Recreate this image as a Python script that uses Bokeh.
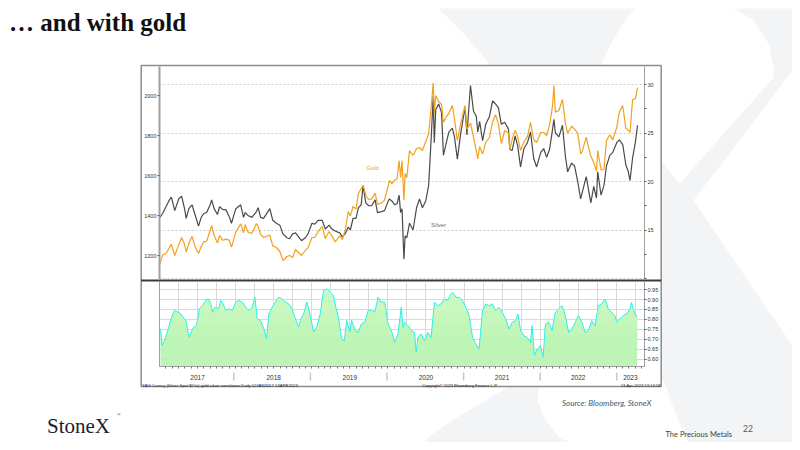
import numpy as np
import pandas as pd
from bokeh.plotting import figure
from bokeh.models import Range1d, LinearAxis, FixedTicker, Label, Grid, NumeralTickFormatter
from bokeh.layouts import column
from bokeh.embed import file_html
from bokeh.resources import INLINE

# ---------------- data ----------------
price_dates = [
    "2017-01-03", "2017-01-16", "2017-02-01", "2017-02-15", "2017-02-27", "2017-03-15", "2017-04-03", "2017-04-17",
    "2017-05-01", "2017-05-09", "2017-05-22", "2017-06-06", "2017-06-20", "2017-07-07", "2017-07-20", "2017-08-01",
    "2017-08-15", "2017-09-01", "2017-09-08", "2017-09-20", "2017-10-06", "2017-10-16", "2017-11-01", "2017-11-15",
    "2017-12-01", "2017-12-12", "2018-01-02", "2018-01-25", "2018-02-08", "2018-02-16", "2018-03-01", "2018-03-20",
    "2018-04-11", "2018-04-19", "2018-05-01", "2018-05-15", "2018-06-14", "2018-06-28", "2018-07-15", "2018-08-01",
    "2018-08-16", "2018-09-04", "2018-09-17", "2018-10-01", "2018-10-15", "2018-11-13", "2018-12-01", "2018-12-14",
    "2019-01-02", "2019-01-15", "2019-02-01", "2019-02-20", "2019-03-07", "2019-03-25", "2019-04-08", "2019-04-23",
    "2019-05-15", "2019-05-28", "2019-06-10", "2019-06-25", "2019-07-05", "2019-07-18", "2019-08-01", "2019-08-13",
    "2019-08-26", "2019-09-04", "2019-09-17", "2019-10-01", "2019-10-15", "2019-11-01", "2019-11-12", "2019-12-02",
    "2019-12-16", "2020-01-03", "2020-01-08", "2020-01-20", "2020-02-03", "2020-02-14", "2020-02-24", "2020-03-02",
    "2020-03-09", "2020-03-18", "2020-03-24", "2020-04-01", "2020-04-14", "2020-05-01", "2020-05-18", "2020-06-01",
    "2020-06-15", "2020-07-01", "2020-07-15", "2020-07-27", "2020-08-06", "2020-08-11", "2020-08-18", "2020-09-01",
    "2020-09-15", "2020-09-24", "2020-10-08", "2020-10-20", "2020-11-06", "2020-11-16", "2020-11-30", "2020-12-15",
    "2021-01-04", "2021-01-06", "2021-01-15", "2021-02-01", "2021-02-15", "2021-03-01", "2021-03-08", "2021-03-17",
    "2021-03-31", "2021-04-15", "2021-05-03", "2021-05-18", "2021-06-01", "2021-06-15", "2021-06-29", "2021-07-15",
    "2021-08-02", "2021-08-09", "2021-08-20", "2021-09-03", "2021-09-15", "2021-09-29", "2021-10-15", "2021-11-01",
    "2021-11-16", "2021-12-01", "2021-12-15", "2022-01-04", "2022-01-18", "2022-02-01", "2022-02-15", "2022-03-01",
    "2022-03-08", "2022-03-15", "2022-04-01", "2022-04-18", "2022-05-02", "2022-05-13", "2022-06-01", "2022-06-15",
    "2022-07-01", "2022-07-14", "2022-07-21", "2022-08-10", "2022-08-22", "2022-09-01", "2022-09-15", "2022-09-28",
    "2022-10-04", "2022-10-20", "2022-11-03", "2022-11-15", "2022-12-01", "2022-12-15", "2023-01-03", "2023-01-16",
    "2023-02-01", "2023-02-16", "2023-02-28", "2023-03-08", "2023-03-20", "2023-04-03", "2023-04-13",
]
gold = [
    1158, 1203, 1210, 1235, 1257, 1200, 1252, 1290,
    1257, 1217, 1262, 1295, 1245, 1210, 1245, 1268,
    1272, 1325, 1350, 1300, 1262, 1300, 1276, 1282,
    1277, 1242, 1317, 1358, 1314, 1354, 1317, 1310,
    1360, 1345, 1305, 1290, 1302, 1248, 1240, 1220,
    1175, 1195, 1200, 1190, 1230, 1200, 1225, 1238,
    1290, 1290, 1320, 1344, 1285, 1320, 1297, 1268,
    1298, 1280, 1325, 1420, 1398, 1445, 1432, 1510,
    1535, 1552, 1500, 1480, 1483, 1512, 1455, 1463,
    1477, 1550, 1575, 1560, 1577, 1584, 1675, 1590,
    1675, 1477, 1610, 1590, 1725, 1700, 1735, 1740,
    1725, 1770, 1810, 1940, 2063, 1912, 2000, 1970,
    1955, 1865, 1895, 1910, 1950, 1885, 1775, 1855,
    1943, 1950, 1830, 1862, 1795, 1723, 1683, 1745,
    1707, 1765, 1790, 1868, 1904, 1858, 1760, 1825,
    1812, 1730, 1782, 1827, 1795, 1725, 1768, 1793,
    1866, 1780, 1765, 1815, 1815, 1800, 1852, 1944,
    2050, 1917, 1925, 1980, 1862, 1811, 1847, 1832,
    1811, 1708, 1718, 1792, 1736, 1697, 1665, 1622,
    1725, 1628, 1630, 1775, 1803, 1778, 1840, 1918,
    1950, 1835, 1826, 1815, 1978, 1985, 2040,
]
silver = [
    16.3, 16.7, 17.4, 18.0, 18.4, 17.0, 18.2, 18.5,
    17.2, 16.2, 17.2, 17.6, 16.6, 15.4, 16.3, 16.7,
    16.8, 17.6, 18.1, 17.2, 16.6, 17.4, 17.1, 17.1,
    16.4, 15.7, 17.2, 17.6, 16.3, 16.8, 16.5, 16.3,
    16.9, 17.3, 16.3, 16.2, 17.2, 16.0, 15.7, 15.5,
    14.6, 14.2, 14.1, 14.6, 14.7, 13.9, 14.2, 14.6,
    15.7, 15.6, 16.0, 16.0, 15.1, 15.5, 15.1, 14.9,
    14.7, 14.3, 14.6, 15.3, 15.0, 16.2, 16.2, 17.3,
    17.6, 19.6, 17.8, 17.5, 17.5, 18.1, 16.8, 16.9,
    17.0, 18.0, 18.2, 18.0, 17.6, 17.7, 18.6, 16.8,
    17.2, 12.0, 14.4, 14.2, 15.7, 15.0, 17.3, 18.2,
    17.3, 18.0, 19.6, 24.4, 28.8, 24.0, 27.4, 28.0,
    27.1, 22.7, 24.0, 25.1, 25.5, 24.6, 22.3, 24.8,
    27.4, 27.6, 24.8, 29.9, 27.3, 26.7, 25.1, 26.2,
    24.2, 25.9, 26.7, 28.3, 28.0, 27.6, 25.9, 26.1,
    25.4, 23.3, 23.2, 24.7, 23.7, 21.5, 23.4, 24.0,
    25.1, 22.4, 21.5, 23.0, 23.4, 22.5, 23.3, 25.3,
    26.4, 25.0, 24.6, 25.8, 22.6, 21.0, 21.9, 21.6,
    19.9, 18.2, 18.8, 20.5, 19.0, 17.8, 19.5, 18.3,
    21.0, 18.6, 19.6, 21.6, 22.7, 23.0, 24.0, 24.3,
    23.8, 21.7, 21.0, 20.1, 22.4, 24.1, 25.8,
]
corr_years = [
    2017.013, 2017.035, 2017.065, 2017.109, 2017.152, 2017.196, 2017.239, 2017.283, 2017.326, 2017.348,
    2017.370, 2017.392, 2017.435, 2017.479, 2017.500, 2017.522, 2017.566, 2017.609, 2017.644, 2017.674,
    2017.696, 2017.731, 2017.775, 2017.805, 2017.836, 2017.870, 2017.914, 2017.957, 2018.001, 2018.044,
    2018.088, 2018.131, 2018.175, 2018.218, 2018.253, 2018.284, 2018.327, 2018.371, 2018.406, 2018.436,
    2018.480, 2018.523, 2018.567, 2018.610, 2018.654, 2018.697, 2018.741, 2018.784, 2018.828, 2018.849,
    2018.893, 2018.936, 2018.980, 2019.024, 2019.067, 2019.111, 2019.154, 2019.198, 2019.241, 2019.285,
    2019.315, 2019.350, 2019.393, 2019.428, 2019.459, 2019.502, 2019.524, 2019.567, 2019.611, 2019.654,
    2019.698, 2019.741, 2019.785, 2019.829, 2019.872, 2019.907, 2019.959,
    2020.002, 2020.046, 2020.089, 2020.133, 2020.176, 2020.198, 2020.220, 2020.263, 2020.307, 2020.350,
    2020.372, 2020.394, 2020.437, 2020.481, 2020.524, 2020.568, 2020.611, 2020.655, 2020.698, 2020.742,
    2020.785, 2020.829, 2020.851, 2020.894, 2020.938, 2020.981, 2021.025, 2021.068, 2021.112, 2021.155,
    2021.199, 2021.242, 2021.286, 2021.329, 2021.373, 2021.416, 2021.460, 2021.503, 2021.547, 2021.590,
    2021.634, 2021.677, 2021.708, 2021.743, 2021.786, 2021.830, 2021.873, 2021.895, 2021.925, 2021.960,
    2022.004, 2022.039, 2022.069, 2022.113, 2022.156, 2022.200, 2022.243, 2022.287, 2022.330, 2022.374,
    2022.417, 2022.461, 2022.504, 2022.548, 2022.591, 2022.635, 2022.678, 2022.722, 2022.765, 2022.809,
    2022.852, 2022.896, 2022.939, 2022.983, 2023.005, 2023.048, 2023.092, 2023.135, 2023.179, 2023.200,
    2023.222, 2023.257, 2023.274,
]
corr = [
    0.753, 0.669, 0.694, 0.745, 0.803, 0.845, 0.837, 0.828, 0.803, 0.795,
    0.745, 0.711, 0.753, 0.770, 0.795, 0.853, 0.870, 0.895, 0.903, 0.878,
    0.837, 0.862, 0.853, 0.895, 0.878, 0.845, 0.853, 0.845, 0.887, 0.895,
    0.887, 0.862, 0.845, 0.862, 0.912, 0.803, 0.795, 0.753, 0.703, 0.828,
    0.862, 0.887, 0.912, 0.903, 0.887, 0.878, 0.853, 0.803, 0.761, 0.795,
    0.828, 0.887, 0.820, 0.736, 0.761, 0.828, 0.945, 0.954, 0.937, 0.920,
    0.862, 0.812, 0.703, 0.694, 0.795, 0.736, 0.795, 0.745, 0.736, 0.778,
    0.786, 0.845, 0.845, 0.837, 0.912, 0.887, 0.887,
    0.777, 0.744, 0.685, 0.727, 0.861, 0.760, 0.786, 0.769, 0.744, 0.735,
    0.635, 0.710, 0.727, 0.693, 0.735, 0.710, 0.886, 0.869, 0.878, 0.903,
    0.894, 0.928, 0.936, 0.911, 0.911, 0.894, 0.861, 0.819, 0.710, 0.677,
    0.652, 0.844, 0.878, 0.869, 0.878, 0.844, 0.861, 0.836, 0.802, 0.752,
    0.786, 0.794, 0.827, 0.744, 0.718, 0.710, 0.685, 0.769, 0.618, 0.652,
    0.668, 0.610, 0.777, 0.786, 0.744, 0.836, 0.852, 0.869, 0.819, 0.735,
    0.752, 0.786, 0.819, 0.786, 0.735, 0.744, 0.794, 0.769, 0.869, 0.878,
    0.903, 0.852, 0.836, 0.819, 0.786, 0.802, 0.819, 0.827, 0.852, 0.886,
    0.852, 0.819, 0.819,
]
year_labels = ["2017", "2018", "2019", "2020", "2021", "2022", "2023"]
gold_ticks = [1200, 1400, 1600, 1800, 2000]
silver_ticks = [10, 15, 20, 25, 30]
silver_minor = [12.5, 17.5, 22.5, 27.5]
corr_ticks = [0.60, 0.65, 0.70, 0.75, 0.80, 0.85, 0.90, 0.95]

# ---------------- geometry (page pixels) ----------------
BOX_L, BOX_R, BOX_T, BOX_B = 140.7, 660.7, 65.0, 386.0
SEP_Y = 280.0
FRAME_L, FRAME_R = 156.7, 644.7
PX_YEAR = 76.6
T0 = 2017.0
T1 = T0 + (FRAME_R - FRAME_L) / PX_YEAR

GOLD_C = "#f2a11d"
SILVER_C = "#4a4a4a"
GREY_AX = "#a0a0a0"
TXT = "#333333"

d = pd.to_datetime(price_dates)
t_price = np.array([x.year + (x.dayofyear - 1) / (366 if x.is_leap_year else 365) for x in d])
t_corr = np.array(corr_years)
c_arr = np.array(corr)


def place(left, top_):
    return {"position": "absolute", "left": f"{left:.1f}px", "top": f"{top_:.1f}px"}


# ---------------- background slide (own root, so frames are not aligned) ----------------
bg = figure(width=784, height=434, x_range=Range1d(8, 792), y_range=Range1d(442, 8),
            toolbar_location=None, tools="", output_backend="svg", min_border=0,
            x_axis_location=None, y_axis_location=None, outline_line_color=None,
            styles=place(8, 8))
bg.grid.visible = False

xA = [430, 643, 628, 612, 600, 598, 693, 800, 800, 690, 680, 670, 666, 490, 465, 445]
yA = [0, 0, 15, 40, 65, 85, 200, 357, 448, 448, 425, 400, 387, 65, 35, 15]
xB = [720, 800, 800, 693, 538, 537, 545, 560, 588, 418, 430, 460, 490, 507, 680, 773, 773, 768, 753]
yB = [0, 0, 60, 200, 387, 400, 420, 438, 448, 448, 435, 415, 397, 387, 182, 77, 67, 43, 20]
bg.patches(xs=[xA, xB], ys=[yA, yB], fill_color="#f3f4f6", line_color=None)

bg.quad(left=[BOX_L], right=[BOX_R], top=[BOX_T], bottom=[BOX_B],
        fill_color="white", line_color="#8c8c8c", line_width=1.5)
bg.segment(x0=[BOX_L], y0=[SEP_Y], x1=[BOX_R], y1=[SEP_Y], line_color="#3a3a3a", line_width=2)
sep_x = [FRAME_L + (yr - T0) * PX_YEAR for yr in range(2018, 2024)]
bg.segment(x0=sep_x, y0=[372] * len(sep_x), x1=sep_x, y1=[380] * len(sep_x),
           line_color="#c8c8c8", line_width=1.5)


def blabel(x, y, text, size, font="Liberation Sans", color=TXT, style="normal", align="left"):
    bg.add_layout(Label(x=x, y=y, text=text, text_font=font, text_font_size=size,
                        text_color=color, text_font_style=style, text_align=align,
                        text_baseline="alphabetic"))


blabel(8.5, 22, "\u2026 and with gold", "25px", font="Liberation Serif", color="#111111", style="bold")
blabel(46.5, 425, "StoneX", "21px", font="Liberation Serif", color="#1d1d2e")
blabel(116.5, 414, "\u00ae", "5px", font="Liberation Serif", color="#1d1d2e")
blabel(561.5, 402, "Source: Bloomberg, StoneX", "8px", font="Lato", color="#4a5670", style="italic")
blabel(665, 433.5, "The Precious Metals", "7.5px", font="Lato", color="#404040")
blabel(742.5, 427.5, "22", "8.5px", font="Lato", color="#595959")
blabel(141.5, 384.8, "XAG Curncy (Silver Spot  $/Oz)  gold silver correlation  Daily 02JAN2017-13APR2023",
       "4.2px", color="#222222")
blabel(421.7, 384.8, "Copyright\u00a9 2023 Bloomberg Finance L.P.", "4.1px", color="#222222")
blabel(660, 384.8, "13-Apr-2023 13:13:58", "4.1px", color="#222222", align="right")

# ---------------- upper panel: gold & silver ----------------
xr = Range1d(T0, T1)
top = figure(width=520, height=215, x_range=xr, y_range=Range1d(1075, 2145),
             x_axis_location=None, toolbar_location=None, tools="", output_backend="svg",
             min_border_left=16, min_border_right=16, min_border_top=1, min_border_bottom=0,
             background_fill_alpha=0, border_fill_alpha=0, outline_line_color=None)
top.extra_y_ranges = {"silver": Range1d(9.794, 31.856)}
top.xgrid.visible = False
top.ygrid.visible = False
top.add_layout(Grid(dimension=1, ticker=FixedTicker(ticks=silver_ticks), y_range_name="silver",
                    grid_line_color="#cfcfcf", grid_line_dash="2 2", grid_line_width=1))

ly = top.yaxis[0]
ly.ticker = FixedTicker(ticks=gold_ticks)
ly.axis_line_color = GREY_AX
ly.axis_line_width = 2
ly.major_tick_out = 2
ly.major_tick_in = 0
ly.major_tick_line_color = "#555555"
ly.minor_tick_line_color = None
ly.major_label_standoff = 1
ly.major_label_text_font = "Liberation Sans"
ly.major_label_text_font_size = "5.5px"
ly.major_label_text_color = TXT

ry = LinearAxis(y_range_name="silver",
                ticker=FixedTicker(ticks=silver_ticks, minor_ticks=silver_minor),
                major_label_overrides={10: ""})
ry.axis_line_color = GREY_AX
ry.major_tick_out = 2
ry.major_tick_in = 0
ry.minor_tick_out = 2
ry.minor_tick_in = 0
ry.major_tick_line_color = "#555555"
ry.minor_tick_line_color = "#555555"
ry.major_label_standoff = 1
ry.major_label_text_font = "Liberation Sans"
ry.major_label_text_font_size = "5.5px"
ry.major_label_text_color = TXT
top.add_layout(ry, "right")

top.line(t_price, silver, y_range_name="silver", line_color=SILVER_C, line_width=1.2)
top.line(t_price, gold, line_color=GOLD_C, line_width=1.2)
top.add_layout(Label(x=2019.798, y=1637.5, text="Gold", text_color=GOLD_C, text_font="Liberation Sans",
                     text_font_size="6px", text_align="center", text_baseline="middle"))
top.add_layout(Label(x=2020.666, y=15.5, y_range_name="silver", text="Silver", text_color="#707070",
                     text_font="Liberation Sans", text_font_size="6px", text_align="center",
                     text_baseline="middle"))

# ---------------- lower panel: correlation ----------------
bot = figure(width=520, height=106, x_range=xr, y_range=Range1d(0.5633, 0.9905),
             y_axis_location="right", toolbar_location=None, tools="", output_backend="svg",
             min_border_left=16, min_border_right=16, min_border_top=1, min_border_bottom=20,
             background_fill_alpha=0, border_fill_alpha=0, outline_line_color=GREY_AX)

quarters = [T0 + 0.25 * k for k in range(1, 26)]
months = [T0 + k / 12 for k in range(1, 77)]
label_pos = [yr + 0.5 for yr in range(2017, 2023)] + [round((2023 + T1) / 2, 3)]
bot.xgrid.ticker = FixedTicker(ticks=quarters)
bot.xgrid.grid_line_color = "#d9d9d9"
bot.ygrid.ticker = FixedTicker(ticks=corr_ticks)
bot.ygrid.grid_line_color = "#d9d9d9"

bx = bot.xaxis[0]
bx.ticker = FixedTicker(ticks=label_pos, minor_ticks=months)
bx.major_label_overrides = {p: s for p, s in zip(label_pos, year_labels)}
bx.axis_line_color = GREY_AX
bx.major_tick_out = 0
bx.major_tick_in = 0
bx.minor_tick_out = 2
bx.minor_tick_in = 0
bx.minor_tick_line_color = "#777777"
bx.major_label_standoff = 6
bx.major_label_text_font = "Liberation Sans"
bx.major_label_text_font_size = "6.5px"
bx.major_label_text_color = TXT

by = bot.yaxis[0]
by.ticker = FixedTicker(ticks=corr_ticks)
by.formatter = NumeralTickFormatter(format="0.00")
by.axis_line_color = GREY_AX
by.major_tick_out = 2
by.major_tick_in = 0
by.major_tick_line_color = "#555555"
by.minor_tick_line_color = None
by.major_label_standoff = 1
by.major_label_text_font = "Liberation Sans"
by.major_label_text_font_size = "5.5px"
by.major_label_text_color = TXT

levels = [0.5633, 0.66, 0.72, 0.78, 0.84, 0.90]
shades = ["#b9f3b1", "#bdf4b5", "#c1f5b9", "#c5f6bd", "#c9f7c1", "#cdf8c5"]
for lo, col in zip(levels, shades):
    bot.varea(x=t_corr, y1=np.minimum(lo, c_arr), y2=c_arr, fill_color=col, fill_alpha=0.92)
bot.line(t_corr, c_arr, line_color="#2ef0f0", line_width=1)

charts = column(top, bot, styles=place(BOX_L, BOX_T))
open("out.html", "w").write(file_html([bg, charts], INLINE))
